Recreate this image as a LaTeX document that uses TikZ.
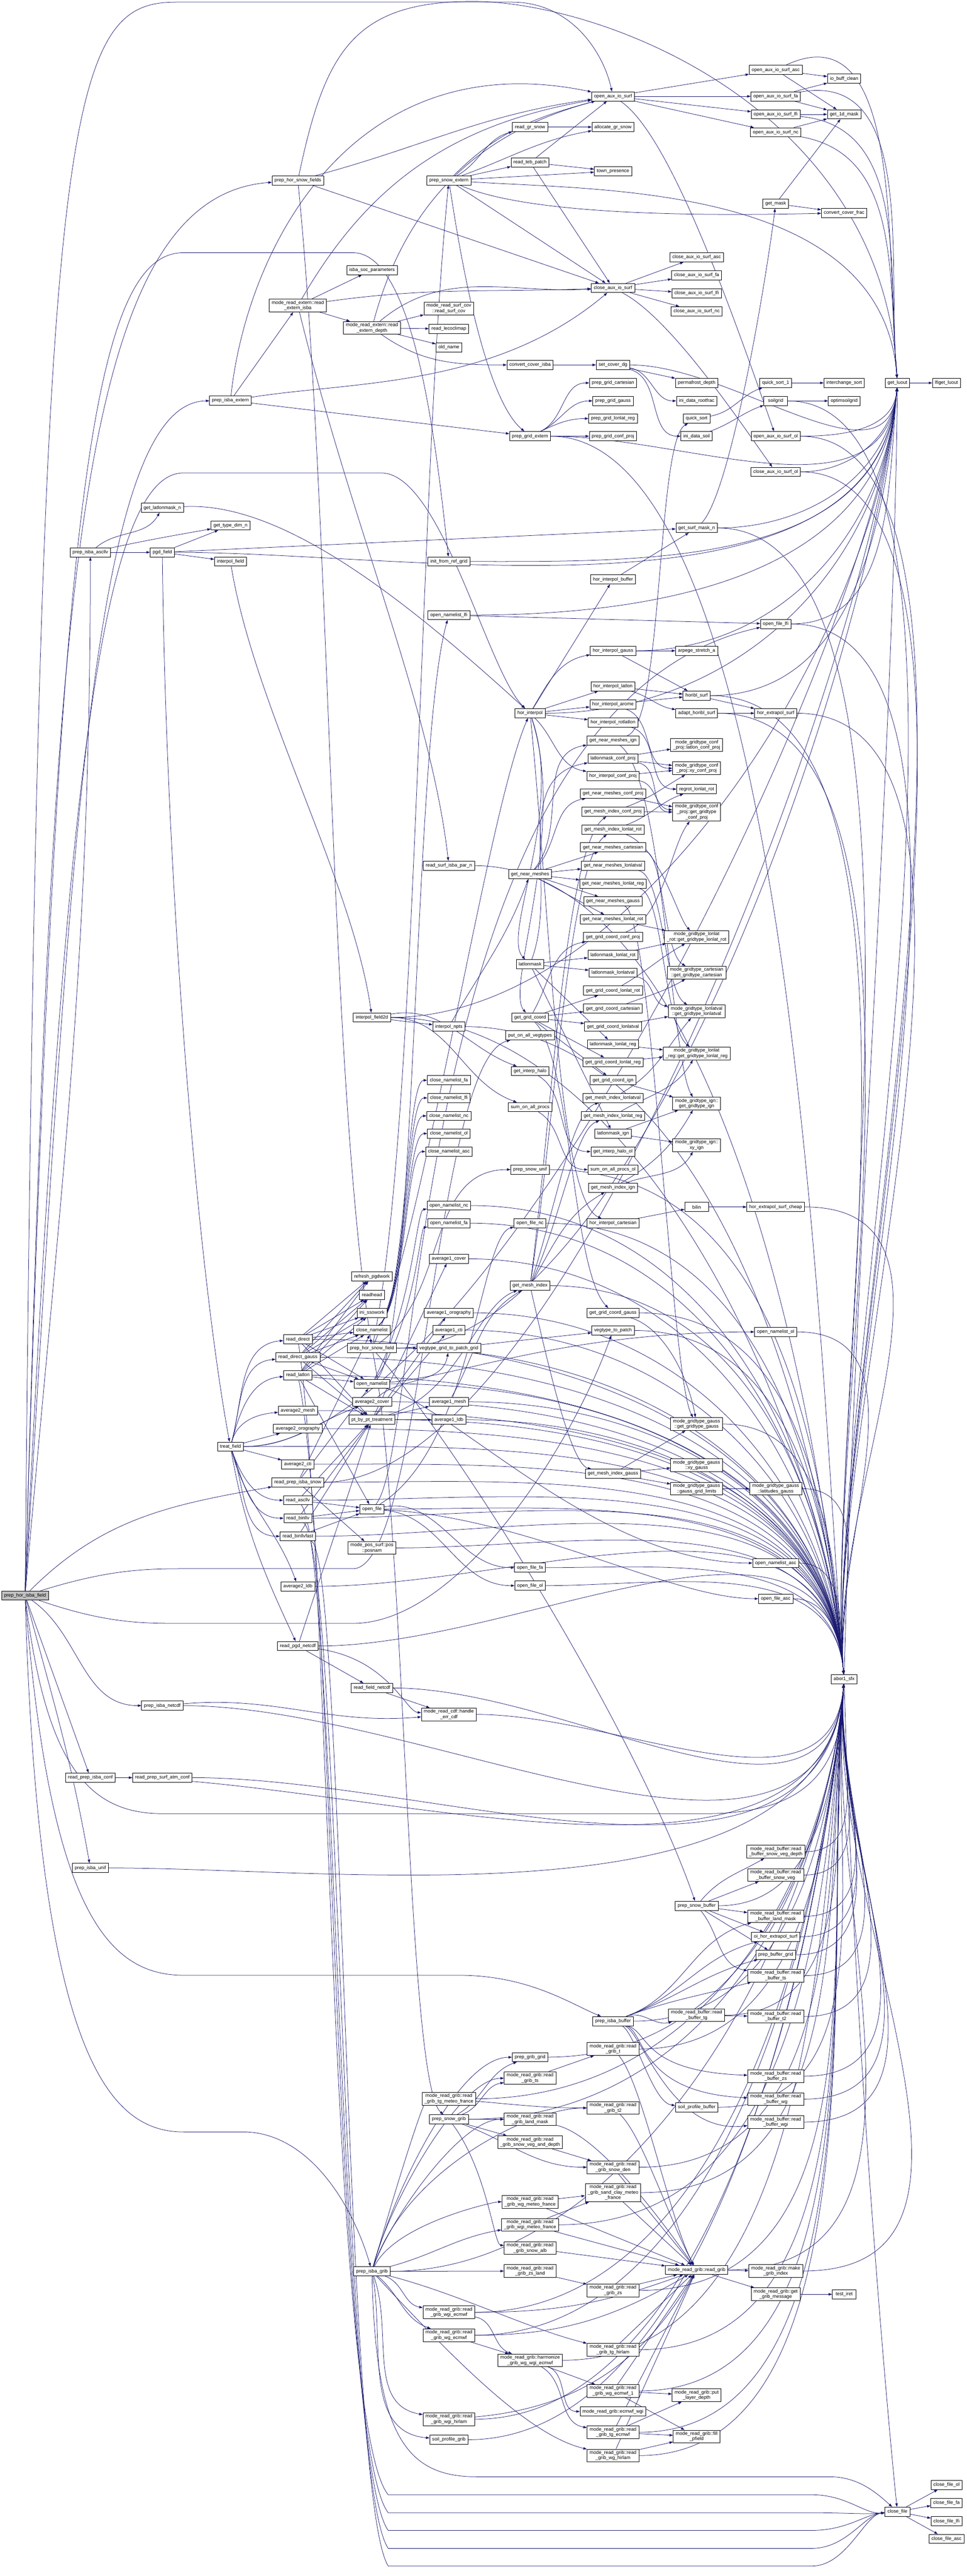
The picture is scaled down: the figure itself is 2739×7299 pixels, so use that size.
\documentclass[tikz,border=0pt]{standalone}
\usepackage{fontspec}
\setmainfont{Liberation Sans}
\usetikzlibrary{arrows.meta,backgrounds}
\definecolor{edgeblue}{RGB}{25,25,112}
\definecolor{rootgray}{RGB}{191,191,191}
% one pixel of the reference is 0.015pt here, blown up again on the canvas
\tikzset{
  fn/.style={draw=black, line width=0.018pt, fill=white, align=center,
    font=\fontsize{0.2025}{0.2325}\selectfont, inner xsep=0.105pt, inner ysep=0.06pt, minimum height=0.39pt},
  call/.style={draw=edgeblue, line width=0.0165pt, -{Triangle[length=0.15pt,width=0.105pt]}},
  fromtop/.style={out=0,in=95,max distance=10.5pt},
  frombot/.style={out=0,in=-95,max distance=10.5pt},
  blowup/.style={transform canvas={scale=66.6667}}
}
\begin{document}
\catcode`\_=12
\begin{tikzpicture}[x=0.015pt,y=-0.015pt]
\useasboundingbox (0pt,0pt) rectangle (2739pt,-7299pt);
\begin{scope}[on background layer]
  \fill[white] (0pt,0pt) rectangle (2739pt,-7299pt);
\end{scope}

\begin{scope}[blowup]
% rank 0 and 1
\node[fn, fill=rootgray] (root) at (71,4521) {prep_hor_isba_field};
\node[fn] (isbaascllv) at (256,1565) {prep_isba_ascllv};
\node[fn] (readprepisbaconf) at (256,5037) {read_prep_isba_conf};
\node[fn] (isbaunif) at (256,5293) {prep_isba_unif};
% rank 2
\node[fn] (latlonmaskn) at (460,1439) {get_latlonmask_n};
\node[fn] (pgdfield) at (460,1565) {pgd_field};
\node[fn] (isbanetcdf) at (460,4833) {prep_isba_netcdf};
\node[fn] (readprepsurfatmconf) at (460,5037) {read_prep_surf_atm_conf};
% rank 3
\node[fn] (isbaextern) at (653,1135) {prep_isba_extern};
\node[fn] (typedimn) at (653,1489) {get_type_dim_n};
\node[fn] (interpolfield) at (653,1591) {interpol_field};
\node[fn] (treatfield) at (653,4099) {treat_field};
% rank 4
\node[fn] (horsnowfields) at (844,511) {prep_hor_snow_fields};
\node[fn] (readexternisba) at (844,866) {mode_read_extern::read\\_extern_isba};
\node[fn] (readdirect) at (844,3795) {read_direct};
\node[fn] (readdirectgauss) at (844,3846) {read_direct_gauss};
\node[fn] (readlatlon) at (844,3897) {read_latlon};
\node[fn] (average2mesh) at (844,3997) {average2_mesh};
\node[fn] (average2orography) at (844,4048) {average2_orography};
\node[fn] (average2cti) at (844,4149) {average2_cti};
\node[fn] (readprepisbasnow) at (844,4200) {read_prep_isba_snow};
\node[fn] (readascllv) at (844,4251) {read_ascllv};
\node[fn] (readbinllv) at (844,4302) {read_binllv};
\node[fn] (readbinllvfast) at (844,4353) {read_binllvfast};
\node[fn] (average2ldb) at (844,4495) {average2_ldb};
\node[fn] (readpgdnetcdf) at (844,4664) {read_pgd_netcdf};
% rank 5
\node[fn] (isbasocparameters) at (1054,765) {isba_soc_parameters};
\node[fn] (readexterndepth) at (1054,929) {mode_read_extern::read\\_extern_depth};
\node[fn] (interpolfield2d) at (1054,2883) {interpol_field2d};
\node[fn] (refreshpgdwork) at (1054,3617) {refresh_pgdwork};
\node[fn] (readhead) at (1054,3669) {readhead};
\node[fn] (inissowork) at (1054,3720) {ini_ssowork};
\node[fn] (closenamelist) at (1054,3769) {close_namelist};
\node[fn] (horsnowfield) at (1054,3820) {prep_hor_snow_field};
\node[fn] (opennamelist) at (1054,3921) {open_namelist};
\node[fn] (average2cover) at (1054,3972) {average2_cover};
\node[fn] (ptbypt) at (1054,4023) {pt_by_pt_treatment};
\node[fn] (openfile) at (1054,4276) {open_file};
\node[fn] (posnam) at (1054,4386) {mode_pos_surf::pos\\::posnam};
\node[fn] (readfieldnetcdf) at (1054,4783) {read_field_netcdf};
\node[fn] (isbagrib) at (1054,6436) {prep_isba_grib};
% rank 6
\node[fn] (snowextern) at (1272,511) {prep_snow_extern};
\node[fn] (readsurfcov) at (1272,874) {mode_read_surf_cov\\::read_surf_cov};
\node[fn] (readlecoclimap) at (1272,932) {read_lecoclimap};
\node[fn] (oldname) at (1272,984) {old_name};
\node[fn] (initfromrefgrid) at (1272,1591) {init_from_ref_grid};
\node[fn] (opennamelistlfi) at (1272,1743) {open_namelist_lfi};
\node[fn] (readsurfisbaparn) at (1272,2453) {read_surf_isba_par_n};
\node[fn] (interpolnpts) at (1272,2909) {interpol_npts};
\node[fn] (closenamelistfa) at (1272,3061) {close_namelist_fa};
\node[fn] (closenamelistlfi) at (1272,3111) {close_namelist_lfi};
\node[fn] (closenamelistnc) at (1272,3162) {close_namelist_nc};
\node[fn] (closenamelistol) at (1272,3212) {close_namelist_ol};
\node[fn] (closenamelistasc) at (1272,3263) {close_namelist_asc};
\node[fn] (opennamelistnc) at (1272,3416) {open_namelist_nc};
\node[fn] (opennamelistfa) at (1272,3466) {open_namelist_fa};
\node[fn] (average1cover) at (1272,3567) {average1_cover};
\node[fn] (average1orography) at (1272,3720) {average1_orography};
\node[fn] (average1cti) at (1272,3769) {average1_cti};
\node[fn] (vegtypegridtopatchgrid) at (1272,3820) {vegtype_grid_to_patch_grid};
\node[fn] (average1mesh) at (1272,3972) {average1_mesh};
\node[fn] (average1ldb) at (1272,4023) {average1_ldb};
\node[fn] (handleerrcdf) at (1272,4858) {mode_read_cdf::handle\\_err_cdf};
\node[fn] (readgribtgmeteofrance) at (1272,5947) {mode_read_grib::read\\_grib_tg_meteo_france};
\node[fn] (snowgrib) at (1272,6005) {prep_snow_grib};
\node[fn] (readgribwgiecmwf) at (1272,6552) {mode_read_grib::read\\_grib_wgi_ecmwf};
\node[fn] (readgribwgecmwf) at (1272,6617) {mode_read_grib::read\\_grib_wg_ecmwf};
\node[fn] (readgribwgihirlam) at (1272,6855) {mode_read_grib::read\\_grib_wgi_hirlam};
\node[fn] (soilprofilegrib) at (1272,6913) {soil_profile_grib};
% rank 7
\node[fn] (readgrsnow) at (1502,360) {read_gr_snow};
\node[fn] (readtebpatch) at (1502,460) {read_teb_patch};
\node[fn] (convertcoverisba) at (1502,1034) {convert_cover_isba};
\node[fn] (gridextern) at (1502,1236) {prep_grid_extern};
\node[fn] (horinterpol) at (1502,2021) {hor_interpol};
\node[fn] (getnearmeshes) at (1502,2477) {get_near_meshes};
\node[fn] (latlonmask) at (1502,2732) {latlonmask};
\node[fn] (getgridcoord) at (1502,2883) {get_grid_coord};
\node[fn] (putonallvegtypes) at (1502,2934) {put_on_all_vegtypes};
\node[fn] (getinterphalo) at (1502,3035) {get_interp_halo};
\node[fn] (sumonallprocs) at (1502,3137) {sum_on_all_procs};
\node[fn] (snowunif) at (1502,3314) {prep_snow_unif};
\node[fn] (openfilenc) at (1502,3466) {open_file_nc};
\node[fn] (getmeshindex) at (1502,3643) {get_mesh_index};
\node[fn] (openfilefa) at (1502,4442) {open_file_fa};
\node[fn] (openfileol) at (1502,4493) {open_file_ol};
\node[fn] (gribgrid) at (1502,5829) {prep_grib_grid};
\node[fn] (readgribts) at (1502,5888) {mode_read_grib::read\\_grib_ts};
\node[fn] (readgriblandmask) at (1502,6005) {mode_read_grib::read\\_grib_land_mask};
\node[fn] (readgribsnowveganddepth) at (1502,6070) {mode_read_grib::read\\_grib_snow_veg_and_depth};
\node[fn] (readgribwgmeteofrance) at (1502,6239) {mode_read_grib::read\\_grib_wg_meteo_france};
\node[fn] (readgribwgimeteofrance) at (1502,6304) {mode_read_grib::read\\_grib_wgi_meteo_france};
\node[fn] (readgribsnowalb) at (1502,6370) {mode_read_grib::read\\_grib_snow_alb};
\node[fn] (readgribzsland) at (1502,6435) {mode_read_grib::read\\_grib_zs_land};
\node[fn] (harmonize) at (1502,6688) {mode_read_grib::harmonize\\_grib_wg_wgi_ecmwf};
% rank 8
\node[fn] (openauxiosurf) at (1737,273) {open_aux_io_surf};
\node[fn] (allocategrsnow) at (1737,360) {allocate_gr_snow};
\node[fn] (townpresence) at (1737,485) {town_presence};
\node[fn] (closeauxiosurf) at (1737,816) {close_aux_io_surf};
\node[fn] (setcoverdg) at (1737,1034) {set_cover_dg};
\node[fn] (gridcartesian) at (1737,1085) {prep_grid_cartesian};
\node[fn] (gridgauss) at (1737,1136) {prep_grid_gauss};
\node[fn] (gridlonlatreg) at (1737,1186) {prep_grid_lonlat_reg};
\node[fn] (gridconfproj) at (1737,1236) {prep_grid_conf_proj};
\node[fn] (horinterpolbuffer) at (1737,1642) {hor_interpol_buffer};
\node[fn] (horinterpolgauss) at (1737,1844) {hor_interpol_gauss};
\node[fn] (horinterpollatlon) at (1737,1945) {hor_interpol_latlon};
\node[fn] (horinterpolarome) at (1737,1996) {hor_interpol_arome};
\node[fn] (horinterpolrotlatlon) at (1737,2047) {hor_interpol_rotlatlon};
\node[fn] (getnearmeshesign) at (1737,2098) {get_near_meshes_ign};
\node[fn] (latlonmaskconfproj) at (1737,2149) {latlonmask_conf_proj};
\node[fn] (horinterpolconfproj) at (1737,2199) {hor_interpol_conf_proj};
\node[fn] (getnearmeshesconfproj) at (1737,2249) {get_near_meshes_conf_proj};
\node[fn] (getmeshindexconfproj) at (1737,2300) {get_mesh_index_conf_proj};
\node[fn] (getmeshindexlonlatrot) at (1737,2351) {get_mesh_index_lonlat_rot};
\node[fn] (getnearmeshescartesian) at (1737,2401) {get_near_meshes_cartesian};
\node[fn] (getnearmesheslonlatval) at (1737,2453) {get_near_meshes_lonlatval};
\node[fn] (getnearmesheslonlatreg) at (1737,2504) {get_near_meshes_lonlat_reg};
\node[fn] (getnearmeshesgauss) at (1737,2554) {get_near_meshes_gauss};
\node[fn] (getnearmesheslonlatrot) at (1737,2605) {get_near_meshes_lonlat_rot};
\node[fn] (getgridcoordconfproj) at (1737,2655) {get_grid_coord_conf_proj};
\node[fn] (latlonmasklonlatrot) at (1737,2706) {latlonmask_lonlat_rot};
\node[fn] (latlonmasklonlatval) at (1737,2756) {latlonmask_lonlatval};
\node[fn] (getgridcoordlonlatrot) at (1737,2807) {get_grid_coord_lonlat_rot};
\node[fn] (getgridcoordcartesian) at (1737,2858) {get_grid_coord_cartesian};
\node[fn] (getgridcoordlonlatval) at (1737,2909) {get_grid_coord_lonlatval};
\node[fn] (latlonmasklonlatreg) at (1737,2959) {latlonmask_lonlat_reg};
\node[fn] (getgridcoordlonlatreg) at (1737,3010) {get_grid_coord_lonlat_reg};
\node[fn] (getgridcoordign) at (1737,3061) {get_grid_coord_ign};
\node[fn] (getmeshindexlonlatval) at (1737,3111) {get_mesh_index_lonlatval};
\node[fn] (getmeshindexlonlatreg) at (1737,3162) {get_mesh_index_lonlat_reg};
\node[fn] (latlonmaskign) at (1737,3212) {latlonmask_ign};
\node[fn] (getinterphalool) at (1737,3263) {get_interp_halo_ol};
\node[fn] (sumonallprocsol) at (1737,3314) {sum_on_all_procs_ol};
\node[fn] (getmeshindexign) at (1737,3365) {get_mesh_index_ign};
\node[fn] (horinterpolcartesian) at (1737,3466) {hor_interpol_cartesian};
\node[fn] (getgridcoordgauss) at (1737,3720) {get_grid_coord_gauss};
\node[fn] (vegtypetopatch) at (1737,3770) {vegtype_to_patch};
\node[fn] (getmeshindexgauss) at (1737,4176) {get_mesh_index_gauss};
\node[fn] (isbabuffer) at (1737,5727) {prep_isba_buffer};
\node[fn] (readgribt) at (1737,5806) {mode_read_grib::read\\_grib_t};
\node[fn] (readgribt2) at (1737,5973) {mode_read_grib::read\\_grib_t2};
\node[fn] (readgribsnowden) at (1737,6141) {mode_read_grib::read\\_grib_snow_den};
\node[fn] (readgribsandclay) at (1737,6213) {mode_read_grib::read\\_grib_sand_clay_meteo\\_france};
\node[fn] (readgribzs) at (1737,6490) {mode_read_grib::read\\_grib_zs};
\node[fn] (readgribtghirlam) at (1737,6658) {mode_read_grib::read\\_grib_tg_hirlam};
\node[fn] (readgribwgecmwf1) at (1737,6775) {mode_read_grib::read\\_grib_wg_ecmwf_1};
\node[fn] (ecmwfwgi) at (1737,6833) {mode_read_grib::ecmwf_wgi};
\node[fn] (readgribtgecmwf) at (1737,6892) {mode_read_grib::read\\_grib_tg_ecmwf};
\node[fn] (readgribwghirlam) at (1737,6958) {mode_read_grib::read\\_grib_wg_hirlam};
% rank 9
\node[fn] (closeauxiosurfasc) at (1974,729) {close_aux_io_surf_asc};
\node[fn] (closeauxiosurffa) at (1974,780) {close_aux_io_surf_fa};
\node[fn] (closeauxiosurflfi) at (1974,831) {close_aux_io_surf_lfi};
\node[fn] (closeauxiosurfnc) at (1974,882) {close_aux_io_surf_nc};
\node[fn] (permafrostdepth) at (1974,1085) {permafrost_depth};
\node[fn] (inidatarootfrac) at (1974,1136) {ini_data_rootfrac};
\node[fn] (quicksort) at (1974,1186) {quick_sort};
\node[fn] (inidatasoil) at (1974,1236) {ini_data_soil};
\node[fn] (getsurfmaskn) at (1974,1496) {get_surf_mask_n};
\node[fn] (arpegestretcha) at (1974,1844) {arpege_stretch_a};
\node[fn] (horiblsurf) at (1974,1971) {horibl_surf};
\node[fn] (adapthoriblsurf) at (1974,2021) {adapt_horibl_surf};
\node[fn] (latlonconfproj) at (1974,2111) {mode_gridtype_conf\\_proj::latlon_conf_proj};
\node[fn] (xyconfproj) at (1974,2177) {mode_gridtype_conf\\_proj::xy_conf_proj};
\node[fn] (regrotlonlatrot) at (1974,2236) {regrot_lonlat_rot};
\node[fn] (gettypeconfproj) at (1974,2301) {mode_gridtype_conf\\_proj::get_gridtype\\_conf_proj};
\node[fn] (gettypelonlatrot) at (1974,2655) {mode_gridtype_lonlat\\_rot::get_gridtype_lonlat_rot};
\node[fn] (gettypecartesian) at (1974,2756) {mode_gridtype_cartesian\\::get_gridtype_cartesian};
\node[fn] (gettypelonlatval) at (1974,2866) {mode_gridtype_lonlatval\\::get_gridtype_lonlatval};
\node[fn] (gettypelonlatreg) at (1974,2985) {mode_gridtype_lonlat\\_reg::get_gridtype_lonlat_reg};
\node[fn] (gettypeign) at (1974,3127) {mode_gridtype_ign::\\get_gridtype_ign};
\node[fn] (xyign) at (1974,3245) {mode_gridtype_ign::\\xy_ign};
\node[fn] (bilin) at (1974,3420) {bilin};
\node[fn] (gettypegauss) at (1974,4035) {mode_gridtype_gauss\\::get_gridtype_gauss};
\node[fn] (xygauss) at (1974,4152) {mode_gridtype_gauss\\::xy_gauss};
\node[fn] (gaussgridlimits) at (1974,4218) {mode_gridtype_gauss\\::gauss_grid_limits};
\node[fn] (snowbuffer) at (1974,5400) {prep_snow_buffer};
\node[fn] (readbuffertg) at (1974,5710) {mode_read_buffer::read\\_buffer_tg};
\node[fn] (soilprofilebuffer) at (1974,5971) {soil_profile_buffer};
\node[fn] (readgrib) at (1974,6432) {mode_read_grib::read_grib};
\node[fn] (putlayerdepth) at (1974,6787) {mode_read_grib::put\\_layer_depth};
\node[fn] (fillpfield) at (1974,6904) {mode_read_grib::fill\\_pfield};
% rank 10
\node[fn] (auxasc) at (2198,198) {open_aux_io_surf_asc};
\node[fn] (auxfa) at (2198,273) {open_aux_io_surf_fa};
\node[fn] (auxlfi) at (2198,324) {open_aux_io_surf_lfi};
\node[fn] (auxnc) at (2198,375) {open_aux_io_surf_nc};
\node[fn] (getmask) at (2198,577) {get_mask};
\node[fn] (quicksort1) at (2198,1085) {quick_sort_1};
\node[fn] (soilgrid) at (2198,1136) {soilgrid};
\node[fn] (auxol) at (2198,1236) {open_aux_io_surf_ol};
\node[fn] (closeauxol) at (2198,1337) {close_aux_io_surf_ol};
\node[fn] (openfilelfi) at (2198,1768) {open_file_lfi};
\node[fn] (horextrapolsurf) at (2198,2021) {hor_extrapol_surf};
\node[fn] (horextrapolsurfcheap) at (2198,3420) {hor_extrapol_surf_cheap};
\node[fn] (opennamelistol) at (2198,3774) {open_namelist_ol};
\node[fn] (latitudesgauss) at (2198,4218) {mode_gridtype_gauss\\::latitudes_gauss};
\node[fn] (opennamelistasc) at (2198,4429) {open_namelist_asc};
\node[fn] (openfileasc) at (2198,4530) {open_file_asc};
\node[fn] (buffersnowvegdepth) at (2198,5247) {mode_read_buffer::read\\_buffer_snow_veg_depth};
\node[fn] (buffersnowveg) at (2198,5313) {mode_read_buffer::read\\_buffer_snow_veg};
\node[fn] (bufferlandmask) at (2198,5430) {mode_read_buffer::read\\_buffer_land_mask};
\node[fn] (oihorextrapolsurf) at (2198,5488) {oi_hor_extrapol_surf};
\node[fn] (bufferpgrid) at (2198,5539) {prep_buffer_grid};
\node[fn] (bufferts) at (2198,5598) {mode_read_buffer::read\\_buffer_ts};
\node[fn] (buffert2) at (2198,5714) {mode_read_buffer::read\\_buffer_t2};
\node[fn] (bufferzs) at (2198,5883) {mode_read_buffer::read\\_buffer_zs};
\node[fn] (bufferwg) at (2198,5948) {mode_read_buffer::read\\_buffer_wg};
\node[fn] (bufferwgi) at (2198,6013) {mode_read_buffer::read\\_buffer_wgi};
\node[fn] (makegribindex) at (2198,6435) {mode_read_grib::make\\_grib_index};
\node[fn] (getgribmessage) at (2198,6501) {mode_read_grib::get\\_grib_message};
% rank 11 to 13
\node[fn] (iobuffclean) at (2392,223) {io_buff_clean};
\node[fn] (get1dmask) at (2392,324) {get_1d_mask};
\node[fn] (convertcoverfrac) at (2392,603) {convert_cover_frac};
\node[fn] (interchangesort) at (2392,1085) {interchange_sort};
\node[fn] (optimsoilgrid) at (2392,1136) {optimsoilgrid};
\node[fn] (abor1) at (2392,4758) {abor1_sfx};
\node[fn] (testiret) at (2392,6501) {test_iret};
\node[fn] (getluout) at (2543,1085) {get_luout};
\node[fn] (closefile) at (2543,7117) {close_file};
\node[fn] (lfigetluout) at (2682,1085) {lfiget_luout};
\node[fn] (closefileol) at (2682,7041) {close_file_ol};
\node[fn] (closefilefa) at (2682,7092) {close_file_fa};
\node[fn] (closefilelfi) at (2682,7144) {close_file_lfi};
\node[fn] (closefileasc) at (2682,7194) {close_file_asc};
\end{scope}

\begin{scope}[on background layer]
\begin{scope}[blowup]
% root
\draw[call] (root) to[out=85,in=-90] (isbaascllv);
\draw[call] (root) .. controls (150,1800) and (190,560) .. (horsnowfields);
\draw[call] (root) .. controls (200,2400) and (260,1140) .. (isbaextern);
\draw[call] (root) .. controls (110,300) and (180,6) .. (500,6) -- (1450,6) .. controls (1620,6) and (1710,150) .. (openauxiosurf);
\draw[call] (root) .. controls (160,1500) and (250,716) .. (520,716) -- (1000,716) .. controls (1180,716) and (1240,1300) .. (initfromrefgrid);
\draw[call] (root) .. controls (180,2300) and (280,1340) .. (520,1340) -- (1080,1340) .. controls (1250,1340) and (1380,1900) .. (horinterpol);
\draw[call] (root) to[out=45,in=190] (readprepisbasnow);
\draw[call] (root) .. controls (300,4450) and (400,4445) .. (520,4445) -- (1000,4445) .. controls (1200,4445) and (1230,3000) .. (putonallvegtypes);
\draw[call] (root) .. controls (300,4600) and (400,4600) .. (520,4600) -- (1000,4600) .. controls (1300,4600) and (1620,4100) .. (vegtypetopatch);
\draw[call] (root) -- (readprepisbaconf);
\draw[call] (root) to[out=-75,in=100] (isbaunif);
\draw[call] (root) to[out=-35,in=180] (isbanetcdf);
\draw[call] (root) .. controls (130,5000) and (250,5139) .. (460,5139) -- (2000,5139) .. controls (2300,5139) and (2385,5000) .. (abor1);
\draw[call] (root) .. controls (140,5400) and (300,5597) .. (520,5597) -- (1300,5597) .. controls (1500,5597) and (1620,5680) .. (isbabuffer);
\draw[call] (root) .. controls (110,5800) and (300,6041) .. (520,6041) -- (700,6041) .. controls (880,6050) and (1000,6250) .. (isbagrib);

% upper left
\draw[call] (isbaascllv) to[out=40,in=-120] (latlonmaskn);
\draw[call] (isbaascllv) -- (pgdfield);
\draw[call] (isbaascllv) to[out=12,in=190] (typedimn);
\draw[call] (pgdfield) -- (typedimn);
\draw[call] (pgdfield) -- (interpolfield);
\draw[call] (pgdfield) .. controls (470,2500) and (560,3600) .. (treatfield);
\draw[call] (pgdfield) -- (getsurfmaskn);
\draw[call] (latlonmaskn) .. controls (800,1420) and (1150,1700) .. (horinterpol);
\draw[call] (interpolfield) .. controls (720,2000) and (1000,2500) .. (interpolfield2d);
\draw[call] (readprepisbaconf) -- (readprepsurfatmconf);

\draw[call] (isbaextern) -- (readexternisba);
\draw[call] (isbaextern) .. controls (700,700) and (1000,120) .. (openauxiosurf);
\draw[call] (isbaextern) .. controls (1000,1080) and (1400,1100) .. (closeauxiosurf);
\draw[call] (isbaextern) -- (gridextern);
\draw[call] (readexternisba) -- (isbasocparameters);
\draw[call] (readexternisba) -- (readexterndepth);
\draw[call] (readexternisba) to[out=60,in=190] (openauxiosurf);
\draw[call] (readexternisba) to[out=8,in=182] (closeauxiosurf);
\draw[call] (readexternisba) .. controls (1000,1500) and (1220,2000) .. (readsurfisbaparn);
\draw[call] (readexterndepth) -- (readsurfcov);
\draw[call] (readexterndepth) -- (readlecoclimap);
\draw[call] (readexterndepth) -- (oldname);
\draw[call] (readexterndepth) to[out=75,in=195] (openauxiosurf);
\draw[call] (readexterndepth) to[out=40,in=183] (closeauxiosurf);
\draw[call] (readexterndepth) to[out=-35,in=180] (convertcoverisba);

\draw[call] (horsnowfields) to[out=15,in=188] (openauxiosurf);
\draw[call] (horsnowfields) -- (closeauxiosurf);
\draw[call] (horsnowfields) .. controls (920,150) and (1000,4) .. (1340,4) .. controls (1700,4) and (2500,300) .. (getluout);
\draw[call] (horsnowfields) .. controls (940,1500) and (930,3000) .. (horsnowfield);
\draw[call] (horsnowfield) .. controls (1185,3200) and (1185,1400) .. (snowextern);
\draw[call] (horsnowfield) -- (vegtypegridtopatchgrid);
\draw[call] (horsnowfield) to[out=35,in=180] (snowunif);
\draw[call] (horsnowfield) .. controls (1200,3500) and (1380,2300) .. (horinterpol);
\draw[call] (horsnowfield) .. controls (1300,4100) and (1800,4900) .. (snowbuffer);
\draw[call] (horsnowfield) .. controls (1150,4300) and (1150,5900) .. (snowgrib);

\draw[call] (snowextern) to[out=45,in=195] (openauxiosurf);
\draw[call] (snowextern) to[out=30,in=195] (readgrsnow);
\draw[call] (snowextern) to[out=20,in=190] (allocategrsnow);
\draw[call] (snowextern) -- (readtebpatch);
\draw[call] (snowextern) -- (townpresence);
\draw[call] (snowextern) -- (closeauxiosurf);
\draw[call] (snowextern) .. controls (1500,612) and (2000,612) .. (convertcoverfrac);
\draw[call] (snowextern) .. controls (1330,900) and (1400,1150) .. (gridextern);
\draw[call] (snowextern) .. controls (1700,540) and (2500,520) .. (getluout);
\draw[call] (readtebpatch) -- (openauxiosurf);
\draw[call] (readtebpatch) -- (townpresence);
\draw[call] (readtebpatch) -- (closeauxiosurf);
\draw[call] (readgrsnow) -- (allocategrsnow);
\draw[call] (convertcoverisba) -- (setcoverdg);
\draw[call] (setcoverdg) -- (permafrostdepth);
\draw[call] (setcoverdg) to[out=-10,in=180] (inidatarootfrac);
\draw[call] (setcoverdg) to[out=-15,in=180] (inidatasoil);
\draw[call] (inidatasoil) to[out=20,in=200] (soilgrid);
\draw[call] (quicksort) to[out=10,in=200] (quicksort1);
\draw[call] (quicksort1) -- (interchangesort);
\draw[call] (soilgrid) -- (optimsoilgrid);
\draw[call] (getnearmeshesign) .. controls (1880,2050) and (1860,1250) .. (quicksort);
\foreach \t in {gridcartesian,gridgauss,gridlonlatreg} \draw[call] (gridextern) to[out=25,in=180] (\t);
\draw[call] (gridextern) -- (gridconfproj);

% aux io
\foreach \t in {auxasc,auxfa,auxlfi,auxnc} \draw[call] (openauxiosurf) -- (\t);
\draw[call] (openauxiosurf) .. controls (1900,380) and (2080,900) .. (auxol);
\draw[call] (auxasc) -- (iobuffclean);
\draw[call] (auxasc) -- (get1dmask);
\draw[call] (auxfa) -- (iobuffclean);
\draw[call] (auxfa) -- (get1dmask);
\draw[call] (auxlfi) -- (get1dmask);
\draw[call] (auxnc) -- (get1dmask);
\draw[call] (auxasc) to[out=25,in=95,max distance=7.5pt] (getluout);
\draw[call] (auxfa) to[out=10,in=95,max distance=7.5pt] (getluout);
\draw[call] (auxlfi) to[out=-5,in=95,max distance=7.5pt] (getluout);
\draw[call] (auxnc) to[out=-10,in=95,max distance=7.5pt] (getluout);
\foreach \t in {closeauxiosurfasc,closeauxiosurffa,closeauxiosurflfi,closeauxiosurfnc} \draw[call] (closeauxiosurf) -- (\t);
\draw[call] (closeauxiosurf) .. controls (1900,900) and (2100,1200) .. (closeauxol);
\draw[call] (getmask) -- (get1dmask);
\draw[call] (getmask) -- (convertcoverfrac);
\draw[call] (getsurfmaskn) .. controls (2070,1400) and (2170,800) .. (getmask);
\draw[call] (getluout) -- (lfigetluout);
\draw[call] (opennamelistlfi) -- (openfilelfi);

% hor_interpol
\draw[call] (horinterpol) -- (horinterpolbuffer);
\draw[call] (horinterpol) to[out=60,in=190] (horinterpolgauss);
\draw[call] (horinterpol) -- (horinterpollatlon);
\draw[call] (horinterpol) -- (horinterpolarome);
\draw[call] (horinterpol) -- (horinterpolrotlatlon);
\draw[call] (horinterpol) to[out=-45,in=170] (horinterpolconfproj);
\draw[call] (horinterpol) .. controls (1560,2600) and (1580,3400) .. (horinterpolcartesian);
\draw[call] (horinterpol) .. controls (1600,2300) and (1420,2650) .. (latlonmask);
\draw[call] (horinterpol) .. controls (1610,2350) and (1430,2800) .. (getgridcoord);
\draw[call] (horinterpolbuffer) -- (getsurfmaskn);
\draw[call] (horinterpolgauss) -- (arpegestretcha);
\draw[call] (horinterpolgauss) -- (horiblsurf);
\draw[call] (horinterpollatlon) -- (horiblsurf);
\draw[call] (horinterpollatlon) to[out=-15,in=170] (adapthoriblsurf);
\draw[call] (horinterpolarome) -- (horiblsurf);
\draw[call] (horinterpolarome) to[out=-20,in=180] (xyconfproj);
\draw[call] (horinterpolrotlatlon) to[out=-15,in=180] (regrotlonlatrot);
\draw[call] (horiblsurf) -- (horextrapolsurf);
\draw[call] (adapthoriblsurf) -- (horextrapolsurf);
\draw[call] (latlonmaskconfproj) -- (latlonconfproj);
\draw[call] (latlonmaskconfproj) -- (xyconfproj);
\draw[call] (latlonmaskconfproj) to[out=-10,in=180] (gettypeconfproj);
\draw[call] (horinterpolconfproj) -- (xyconfproj);
\draw[call] (horinterpolconfproj) to[out=-10,in=175] (gettypeconfproj);
\draw[call] (getnearmeshesconfproj) -- (gettypeconfproj);
\draw[call] (getmeshindexconfproj) -- (gettypeconfproj);
\draw[call] (getmeshindexconfproj) to[out=20,in=-150] (xyconfproj);
\draw[call] (getmeshindexlonlatrot) to[out=20,in=-160] (regrotlonlatrot);
\draw[call] (getmeshindexlonlatrot) .. controls (1870,2400) and (1920,2600) .. (gettypelonlatrot);
\draw[call] (getnearmeshesign) .. controls (1880,2200) and (1900,3000) .. (gettypeign);

% get_near_meshes, latlonmask, get_grid_coord, get_mesh_index
\draw[call] (getnearmeshes) to[out=50,in=190] (getnearmeshesign);
\draw[call] (getnearmeshes) to[out=45,in=190] (getnearmeshesconfproj);
\foreach \t in {getnearmeshescartesian,getnearmesheslonlatval,getnearmesheslonlatreg,getnearmeshesgauss,getnearmesheslonlatrot} \draw[call] (getnearmeshes) -- (\t);
\draw[call] (getnearmeshescartesian) .. controls (1880,2420) and (1880,2700) .. (gettypecartesian);
\draw[call] (getnearmesheslonlatval) .. controls (1880,2480) and (1880,2800) .. (gettypelonlatval);
\draw[call] (getnearmesheslonlatreg) .. controls (1880,2530) and (1880,2900) .. (gettypelonlatreg);
\draw[call] (getnearmeshesgauss) .. controls (1850,2600) and (1900,3900) .. (gettypegauss);
\draw[call] (getnearmesheslonlatrot) -- (gettypelonlatrot);
\foreach \t in {latlonmasklonlatrot,latlonmasklonlatval,latlonmasklonlatreg,latlonmaskign} \draw[call] (latlonmask) -- (\t);
\draw[call] (latlonmask) to[out=70,in=190] (latlonmaskconfproj);
\draw[call] (latlonmasklonlatrot) -- (gettypelonlatrot);
\draw[call] (latlonmasklonlatval) to[out=-10,in=170] (gettypelonlatval);
\draw[call] (latlonmasklonlatreg) -- (gettypelonlatreg);
\draw[call] (latlonmaskign) -- (gettypeign);
\draw[call] (latlonmaskign) -- (xyign);
\draw[call] (getgridcoord) to[out=60,in=190] (getgridcoordconfproj);
\foreach \t in {getgridcoordlonlatrot,getgridcoordcartesian,getgridcoordlonlatval,getgridcoordlonlatreg,getgridcoordign} \draw[call] (getgridcoord) -- (\t);
\draw[call] (getgridcoord) .. controls (1620,3000) and (1620,3600) .. (getgridcoordgauss);
\draw[call] (getgridcoordconfproj) .. controls (1880,2600) and (1900,2400) .. (gettypeconfproj);
\draw[call] (getgridcoordlonlatrot) to[out=30,in=-150] (gettypelonlatrot);
\draw[call] (getgridcoordcartesian) to[out=20,in=-150] (gettypecartesian);
\draw[call] (getgridcoordlonlatval) -- (gettypelonlatval);
\draw[call] (getgridcoordlonlatreg) -- (gettypelonlatreg);
\draw[call] (getgridcoordign) -- (gettypeign);
\draw[call] (getgridcoordgauss) .. controls (1880,3760) and (1950,3900) .. (gettypegauss);
\draw[call] (getmeshindex) .. controls (1560,3200) and (1600,2400) .. (getmeshindexconfproj);
\draw[call] (getmeshindex) .. controls (1570,3200) and (1610,2450) .. (getmeshindexlonlatrot);
\draw[call] (getmeshindex) .. controls (1580,3400) and (1620,3150) .. (getmeshindexlonlatval);
\draw[call] (getmeshindex) .. controls (1590,3450) and (1630,3200) .. (getmeshindexlonlatreg);
\draw[call] (getmeshindex) to[out=60,in=-150] (getmeshindexign);
\draw[call] (getmeshindex) .. controls (1560,3900) and (1620,4150) .. (getmeshindexgauss);
\draw[call] (getmeshindexlonlatval) to[out=30,in=-130] (gettypelonlatval);
\draw[call] (getmeshindexlonlatreg) to[out=30,in=-120] (gettypelonlatreg);
\draw[call] (getmeshindexign) to[out=30,in=-120] (gettypeign);
\draw[call] (getmeshindexign) to[out=20,in=-120] (xyign);
\draw[call] (getmeshindexgauss) -- (gettypegauss);
\draw[call] (getmeshindexgauss) -- (xygauss);
\draw[call] (getmeshindexgauss) -- (gaussgridlimits);
\draw[call] (gaussgridlimits) -- (latitudesgauss);
\draw[call] (getinterphalo) to[out=-30,in=180] (getinterphalool);
\draw[call] (sumonallprocs) to[out=-30,in=180] (sumonallprocsol);
\draw[call] (horinterpolcartesian) -- (bilin);
\draw[call] (bilin) -- (horextrapolsurfcheap);
\draw[call] (interpolfield2d) -- (interpolnpts);
\draw[call] (interpolfield2d) to[out=10,in=160] (getinterphalo);
\draw[call] (interpolfield2d) to[out=0,in=160] (sumonallprocs);
\draw[call] (interpolnpts) to[out=60,in=-110] (getnearmeshes);
\draw[call] (vegtypegridtopatchgrid) -- (vegtypetopatch);

% treat_field and readers
\foreach \t in {readdirect,readdirectgauss,readlatlon,average2mesh} \draw[call] (treatfield) to[out=75,in=185] (\t);
\draw[call] (treatfield) -- (average2orography);
\draw[call] (treatfield) -- (average2cti);
\foreach \t in {readascllv,readbinllv,readbinllvfast} \draw[call] (treatfield) to[out=-70,in=180] (\t);
\draw[call] (treatfield) to[out=-75,in=110] (average2ldb);
\draw[call] (treatfield) to[out=-80,in=115] (readpgdnetcdf);
\draw[call] (treatfield) to[out=0,in=200] (average2cover);
\foreach \t in {refreshpgdwork,readhead,inissowork,closenamelist,opennamelist,ptbypt} \draw[call] (readdirect) -- (\t);
\foreach \t in {refreshpgdwork,readhead,inissowork,closenamelist,opennamelist,ptbypt} \draw[call] (readdirectgauss) -- (\t);
\foreach \t in {refreshpgdwork,readhead,inissowork,closenamelist,opennamelist,ptbypt,openfile} \draw[call] (readlatlon) -- (\t);
\foreach \t in {opennamelist,closenamelist,posnam} \draw[call] (readprepisbasnow) -- (\t);
\foreach \s in {readascllv,readbinllv,readbinllvfast} {
  \draw[call] (\s) -- (openfile);
  \draw[call] (\s) -- (ptbypt);
}
\draw[call] (readpgdnetcdf) -- (readfieldnetcdf);
\draw[call] (readpgdnetcdf) .. controls (1100,4700) and (1150,4850) .. (handleerrcdf);
\draw[call] (readpgdnetcdf) .. controls (930,4400) and (1000,4200) .. (ptbypt);
\draw[call] (readfieldnetcdf) -- (handleerrcdf);
\draw[call] (isbanetcdf) to[out=5,in=185] (handleerrcdf);
\foreach \t in {average1cover,average1orography,average1cti,average1mesh,average1ldb} \draw[call] (ptbypt) -- (\t);
\draw[call] (ptbypt) .. controls (1300,3950) and (1350,3700) .. (getmeshindex);
\draw[call] (average1mesh) to[out=60,in=-150] (getmeshindex);
\draw[call] (average2cover) to[out=40,in=-100] (vegtypegridtopatchgrid);
\draw[call] (opennamelist) .. controls (1180,3800) and (1170,2100) .. (opennamelistlfi);
\draw[call] (opennamelist) .. controls (1170,3700) and (1180,3430) .. (opennamelistnc);
\draw[call] (opennamelist) .. controls (1175,3750) and (1190,3480) .. (opennamelistfa);
\draw[call] (opennamelist) .. controls (1300,3900) and (1600,3774) .. (opennamelistol);
\draw[call] (opennamelist) .. controls (1300,4000) and (1700,4429) .. (opennamelistasc);
\foreach \t/\c in {closenamelistfa/3061,closenamelistlfi/3111,closenamelistnc/3162,closenamelistol/3212,closenamelistasc/3263}
  \draw[call] (closenamelist) .. controls (1150,3700) and (1150,\c) .. (\t);
\draw[call] (openfile) .. controls (1200,4100) and (1160,2000) .. (openfilelfi);
\draw[call] (openfile) .. controls (1340,4100) and (1360,3500) .. (openfilenc);
\draw[call] (openfile) to[out=10,in=180] (openfilefa);
\draw[call] (openfile) to[out=-5,in=180] (openfileol);
\draw[call] (openfile) .. controls (1500,4300) and (1900,4530) .. (openfileasc);

% buffer and grib
\foreach \t in {readbuffertg,bufferts,bufferlandmask,oihorextrapolsurf,bufferpgrid} \draw[call] (isbabuffer) to[out=20,in=195] (\t);
\draw[call] (isbabuffer) .. controls (1840,5760) and (1820,5870) .. (bufferzs);
\draw[call] (isbabuffer) .. controls (1830,5760) and (1810,5930) .. (bufferwg);
\draw[call] (isbabuffer) .. controls (1820,5760) and (1900,6050) .. (bufferwgi);
\draw[call] (isbabuffer) .. controls (1800,5760) and (1850,5960) .. (soilprofilebuffer);
\draw[call] (readbuffertg) -- (buffert2);
\draw[call] (snowbuffer) to[out=50,in=210] (buffersnowvegdepth);
\draw[call] (snowbuffer) -- (buffersnowveg);
\draw[call] (snowbuffer) -- (bufferlandmask);
\draw[call] (snowbuffer) -- (oihorextrapolsurf);
\draw[call] (snowbuffer) -- (bufferpgrid);
\draw[call] (snowbuffer) to[out=-50,in=170] (bufferts);
\draw[call] (isbagrib) .. controls (1120,6200) and (1300,5830) .. (gribgrid);
\draw[call] (isbagrib) .. controls (1100,6250) and (1300,5890) .. (readgribts);
\draw[call] (isbagrib) .. controls (1100,6300) and (1300,6005) .. (readgriblandmask);
\draw[call] (isbagrib) .. controls (1120,6300) and (1400,6239) .. (readgribwgmeteofrance);
\draw[call] (isbagrib) to[out=15,in=190] (readgribwgimeteofrance);
\draw[call] (isbagrib) -- (readgribzsland);
\draw[call] (isbagrib) to[out=-20,in=170] (readgribwgiecmwf);
\draw[call] (isbagrib) to[out=-40,in=160] (readgribwgecmwf);
\draw[call] (isbagrib) to[out=-70,in=170] (readgribwgihirlam);
\draw[call] (isbagrib) to[out=-80,in=175] (soilprofilegrib);
\draw[call] (isbagrib) .. controls (1300,6500) and (1500,6600) .. (readgribtghirlam);
\draw[call] (isbagrib) .. controls (1300,6700) and (1500,6900) .. (readgribwghirlam);
\draw[call] (isbagrib) .. controls (1150,6150) and (1500,5973) .. (readgribt2);
\draw[call] (isbagrib) .. controls (1150,6100) and (1200,5960) .. (readgribtgmeteofrance);
\draw[call] (snowgrib) -- (readgribsnowveganddepth);
\draw[call] (snowgrib) to[out=-20,in=180] (readgribsnowden);
\draw[call] (snowgrib) .. controls (1380,6150) and (1400,6360) .. (readgribsnowalb);
\draw[call] (snowgrib) to[out=30,in=200] (gribgrid);
\draw[call] (snowgrib) -- (readgriblandmask);
\draw[call] (snowgrib) to[out=20,in=190] (readgribts);
\draw[call] (readgribtgmeteofrance) to[out=-5,in=180] (readgribt2);
\draw[call] (readgribts) -- (readgribt);
\draw[call] (readgribt) .. controls (1820,5900) and (1900,6300) .. (readgrib);
\draw[call] (readgribt2) .. controls (1820,6050) and (1900,6300) .. (readgrib);
\draw[call] (readgriblandmask) .. controls (1700,6050) and (1880,6300) .. (readgrib);
\draw[call] (readgribsnowveganddepth) -- (readgribsnowden);
\draw[call] (readgribsnowden) -- (readgrib);
\draw[call] (readgribwgmeteofrance) -- (readgribsandclay);
\draw[call] (readgribwgmeteofrance) -- (readgrib);
\draw[call] (readgribwgimeteofrance) -- (readgribsandclay);
\draw[call] (readgribwgimeteofrance) -- (readgrib);
\draw[call] (readgribsandclay) -- (readgrib);
\draw[call] (readgribsnowalb) -- (readgrib);
\draw[call] (readgribzsland) -- (readgribzs);
\draw[call] (readgribzs) -- (readgrib);
\draw[call] (readgribtghirlam) -- (readgrib);
\draw[call] (readgribwgiecmwf) to[out=-10,in=160] (harmonize);
\draw[call] (readgribwgecmwf) -- (harmonize);
\draw[call] (readgribwgiecmwf) to[out=0,in=-160] (readgrib);
\draw[call] (readgribwgecmwf) to[out=0,in=-150] (readgrib);
\draw[call] (readgribwgihirlam) to[out=5,in=-120] (readgrib);
\draw[call] (harmonize) -- (readgribwgecmwf1);
\draw[call] (harmonize) to[out=-20,in=180] (ecmwfwgi);
\draw[call] (harmonize) to[out=-30,in=170] (readgribtgecmwf);
\foreach \s in {readgribwgecmwf1,readgribtgecmwf,readgribwghirlam} \draw[call] (\s) -- (readgrib);
\draw[call] (readgribwgecmwf1) -- (putlayerdepth);
\draw[call] (readgribwgecmwf1) -- (fillpfield);
\draw[call] (readgribtgecmwf) -- (putlayerdepth);
\draw[call] (readgribtgecmwf) -- (fillpfield);
\draw[call] (readgribwghirlam) -- (fillpfield);
\draw[call] (readgrib) -- (makegribindex);
\draw[call] (readgrib) -- (getgribmessage);
\draw[call] (getgribmessage) -- (testiret);

% close_file
\draw[call] (isbagrib) .. controls (1065,6900) and (1150,7018) .. (1350,7018) -- (2350,7018) .. controls (2430,7018) and (2480,7060) .. (closefile);
\foreach \s/\y/\x in {readdirect/7069/935,readlatlon/7120/945,readascllv/7170/955,readbinllv/7221/965,readbinllvfast/7271/975}
  \draw[call] (\s) .. controls (\x,4400) and (\x,\y-200) .. (1100,\y) -- (2300,\y) .. controls (2400,\y) and (2450,7125) .. (closefile);
\foreach \t in {closefileol,closefilefa,closefilelfi,closefileasc} \draw[call] (closefile) -- (\t);
\draw[call] (abor1) .. controls (2420,5800) and (2520,6900) .. (closefile);
\draw[call] (abor1) .. controls (2420,3600) and (2530,2200) .. (getluout);

% abor1_sfx fans
\foreach \s in {interpolfield2d,interpolnpts,readsurfisbaparn,getsurfmaskn,openfilelfi,auxol,closeauxol,soilgrid,adapthoriblsurf,horiblsurf,horextrapolsurf,horextrapolsurfcheap,openfilenc,snowunif,gridextern,latitudesgauss,gettypegauss,getgridcoordgauss,opennamelistol,opennamelistasc,openfileasc,openfilefa,openfileol,opennamelistnc,opennamelistfa,readdirect,readdirectgauss,readlatlon,readprepisbasnow,average2ldb,average2mesh,average2orography,average2cti,average1cover,average1mesh,average1ldb,average1orography,average1cti,ptbypt,openfile,opennamelist,treatfield,horsnowfield,readascllv,readbinllv,readbinllvfast,average2cover,vegtypetopatch,getmeshindex,posnam,readpgdnetcdf}
  \draw[call] (\s) to[fromtop] (abor1);
\foreach \s in {readfieldnetcdf,handleerrcdf,isbanetcdf,readprepisbaconf,readprepsurfatmconf,isbaunif,isbabuffer,snowbuffer,buffersnowvegdepth,buffersnowveg,bufferlandmask,oihorextrapolsurf,bufferpgrid,bufferts,readbuffertg,buffert2,bufferzs,bufferwg,bufferwgi,soilprofilebuffer,gribgrid,snowgrib,isbagrib,readgrib,makegribindex,readgribsnowden,readgribsandclay,readgribwgimeteofrance,readgribzs,readgribtghirlam,harmonize,readgribwgecmwf1,readgribtgecmwf,readgribwghirlam,readgribt,readgribtgmeteofrance,readgribwgiecmwf,readgribwgecmwf,readgribwgihirlam,soilprofilegrib}
  \draw[call] (\s) to[frombot] (abor1);
% get_luout fan
\foreach \s in {pgdfield,getsurfmaskn,openfilelfi,horiblsurf,horinterpol,interpolfield2d,auxol,closeauxol,setcoverdg,gridextern,horsnowfield,readprepisbasnow,treatfield,opennamelistlfi,initfromrefgrid,horinterpolgauss}
  \draw[call] (\s) to[frombot] (getluout);
\end{scope}
\end{scope}
\end{tikzpicture}
\end{document}
